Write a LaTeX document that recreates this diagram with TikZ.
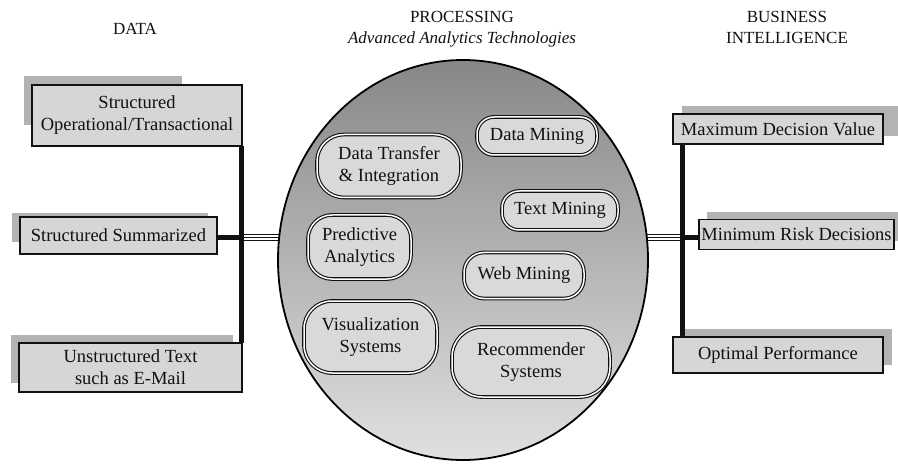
\documentclass[tikz,border=0pt]{standalone}
\usepackage{fontspec}
\setmainfont{Liberation Serif}
\usetikzlibrary{shapes.geometric}
\definecolor{boxfill}{HTML}{D6D6D6}
\definecolor{shadowc}{HTML}{B3B3B3}
\definecolor{pillfill}{HTML}{D9D9D9}
\definecolor{inkc}{HTML}{111111}
\begin{document}
\begin{tikzpicture}[x=1pt,y=-1pt,
  hdr/.style={font=\fontsize{17}{21}\selectfont, text=inkc, align=center, inner sep=0},
  databox/.style={draw=inkc, line width=1.2pt, fill=boxfill, inner sep=0, align=center,
     font=\fontsize{18.5}{22}\selectfont, text=inkc},
  shadowbox/.style={fill=shadowc},
  pill/.style={draw=inkc, line width=1.1pt, double=white, double distance=1.5pt, fill=pillfill,
     inner sep=0, align=center, font=\fontsize{18.5}{22}\selectfont, text=inkc},
  bar/.style={draw=inkc, line width=5pt},
  link/.style={draw=inkc, line width=4.5pt},
  tripleA/.style={draw=inkc, line width=7.5pt},
  tripleB/.style={draw=white, line width=4.3pt},
  tripleC/.style={draw=inkc, line width=1.4pt}]
\useasboundingbox (0,0) rectangle (898,468);

% headers
\node[hdr, anchor=base] (hdata) at (135,35) {DATA};
\node[hdr, anchor=base] (hproc) at (462,23) {PROCESSING};
\node[hdr, anchor=base] (hadv) at (462,44) {\itshape Advanced Analytics Technologies};
\node[hdr, anchor=base] (hbus) at (787,23) {BUSINESS};
\node[hdr, anchor=base] (hint) at (787,44) {INTELLIGENCE};

% shadows
\fill[shadowbox] (24,76) rectangle (182,125);
\fill[shadowbox] (12,213) rectangle (208,242);
\fill[shadowbox] (11,335) rectangle (233,383);
\fill[shadowbox] (682,106) rectangle (898,136);
\fill[shadowbox] (707,212) rectangle (898,241);
\fill[shadowbox] (684,329) rectangle (892,365);

% data boxes
\node[databox, minimum width=210pt, minimum height=61pt] (L1) at (137,115.5) {Structured\\Operational/Transactional};
\node[databox, minimum width=197pt, minimum height=37pt] (L2) at (118.5,235.5) {Structured Summarized};
\node[databox, minimum width=223pt, minimum height=49pt] (L3) at (130.5,367.5) {Unstructured Text\\such as E-Mail};
\node[databox, minimum width=210pt, minimum height=30pt] (R1) at (778,129) {Maximum Decision Value};
\node[databox, minimum width=195pt, minimum height=30pt] (R2) at (796.5,234.5) {Minimum Risk Decisions};
\node[databox, minimum width=210pt, minimum height=36pt] (R3) at (778,355) {Optimal Performance};

% bar coordinates
\coordinate (lbt) at (241.5,146);
\coordinate (lbb) at (241.5,343);
\coordinate (lbm) at (241.5,237.5);
\coordinate (rbt) at (682,144);
\coordinate (rbb) at (682,337);
\coordinate (rbm) at (682,237.5);
\coordinate (pl) at (300,237.5);
\coordinate (pr) at (630,237.5);

% triple connectors
\foreach \s in {tripleA,tripleB,tripleC}{
  \draw[\s] (lbm) -- (pl);
  \draw[\s] (pr) -- (rbm);
}

% processing ellipse
\node[ellipse, draw=black, line width=1.8pt, inner sep=0, minimum width=370pt, minimum height=400pt,
      top color=black!47, bottom color=black!12] (proc) at (463,260) {};

% bars and links
\draw[bar] (lbt) -- (lbb);
\draw[bar] (rbt) -- (rbb);
\draw[link] (L2.east |- lbm) -- (lbm);
\draw[link] (rbm) -- (R2.west |- rbm);

% pills
\node[pill, minimum width=144pt, minimum height=63pt, rounded corners=27pt] (dt) at (389,166) {Data Transfer\\\& Integration};
\node[pill, minimum width=120pt, minimum height=38pt, rounded corners=17pt] (dm) at (537,136) {Data Mining};
\node[pill, minimum width=116pt, minimum height=39pt, rounded corners=17pt] (tm) at (560,210.5) {Text Mining};
\node[pill, minimum width=103pt, minimum height=64pt, rounded corners=24pt] (pa) at (359.5,247) {Predictive\\Analytics};
\node[pill, minimum width=120pt, minimum height=46pt, rounded corners=20pt] (wm) at (524,275.5) {Web Mining};
\node[pill, minimum width=133pt, minimum height=72pt, rounded corners=28pt] (vs) at (370.5,337) {Visualization\\Systems};
\node[pill, minimum width=158pt, minimum height=70pt, rounded corners=30pt] (rs) at (531,362) {Recommender\\Systems};
\end{tikzpicture}
\end{document}
